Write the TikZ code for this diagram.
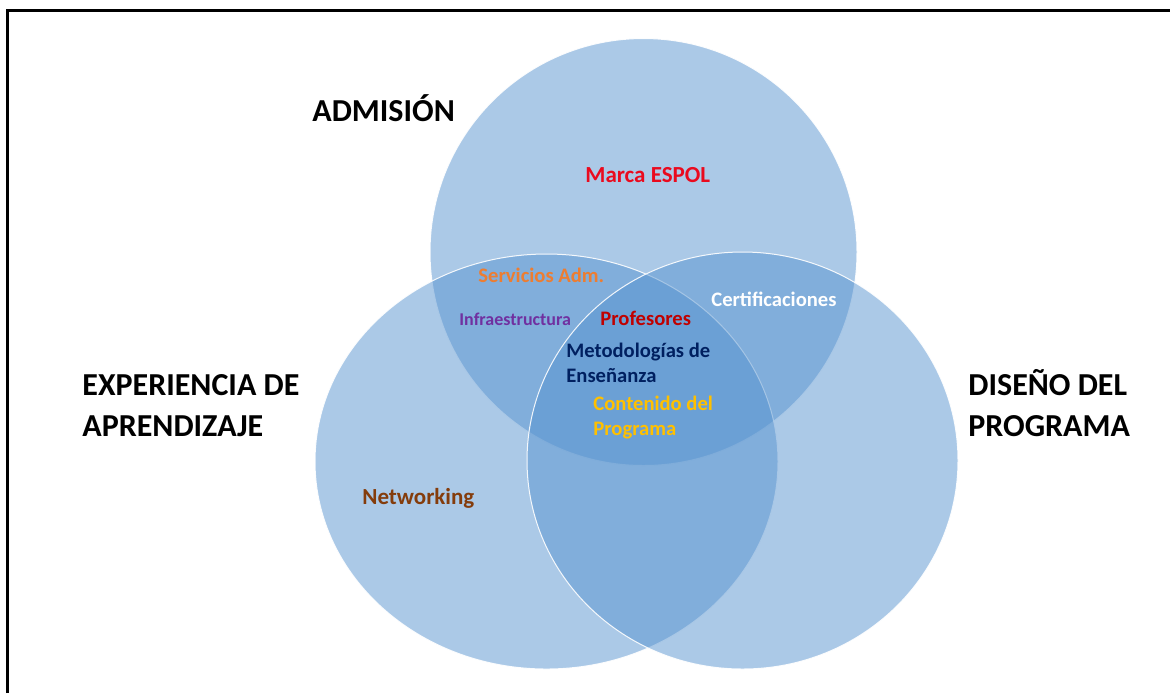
\documentclass[tikz,border=0pt]{standalone}
\usepackage{fontspec}
\setmainfont{Carlito}
\definecolor{VennBlue}{HTML}{5793CF}
\definecolor{MarcaRed}{HTML}{EA0A1E}
\definecolor{AdmOrange}{HTML}{ED7D31}
\definecolor{InfraPurple}{HTML}{7030A0}
\definecolor{ProfRed}{HTML}{C00000}
\definecolor{MetodBlue}{HTML}{002060}
\definecolor{ContGold}{HTML}{FFC000}
\definecolor{NetBrown}{HTML}{843C0C}

\begin{document}
\begin{tikzpicture}[x=0.5pt,y=-0.5pt,
  area/.style={fill=VennBlue,fill opacity=0.5,draw=white,draw opacity=0.9,line width=0.5pt},
  heading/.style={font=\fontsize{16}{20.5}\selectfont\bfseries,align=left,anchor=base west,inner sep=0pt},
  item/.style={font=\fontsize{10.3}{12.5}\selectfont\bfseries,align=left,anchor=base west,inner sep=0pt},
  itembig/.style={item,font=\fontsize{11.5}{14}\selectfont\bfseries},
  itemsmall/.style={item,font=\fontsize{9}{11}\selectfont\bfseries}]
\useasboundingbox (0,0) rectangle (1170,693);
% Frame
\draw [line width=1.65pt] (7.8,693) -- (7.8,10.7) -- (1170,10.7);
% Circles
\path [area] (643.5,252) circle [radius=213.5];
\path [area] (546.5,461.5) ellipse [x radius=231.5,y radius=207.5];
\path [area] (742.5,460.5) ellipse [x radius=215.5,y radius=208.5];
% Headings (base = last line)
\node (admision) [heading] at (312,121) {ADMISIÓN};
\node (experiencia) [heading] at (82,436) {EXPERIENCIA DE\\APRENDIZAJE};
\node (diseno) [heading] at (968,436) {DISEÑO DEL\\PROGRAMA};
% Items
\node (marca) [itembig,text=MarcaRed] at (585,182) {Marca ESPOL};
\node (servicios) [item,text=AdmOrange] at (478,282) {Servicios Adm.};
\node (infra) [itemsmall,text=InfraPurple] at (459,325) {Infraestructura};
\node (profesores) [item,text=ProfRed] at (600,325) {Profesores};
\node (certificaciones) [item,text=white] at (711,306) {Certificaciones};
\node (metodologias) [item,text=MetodBlue] at (566,382) {Metodologías de\\Enseñanza};
\node (contenido) [item,text=ContGold] at (593,435) {Contenido del\\Programa};
\node (networking) [itembig,text=NetBrown] at (362,504) {Networking};
\end{tikzpicture}
\end{document}
